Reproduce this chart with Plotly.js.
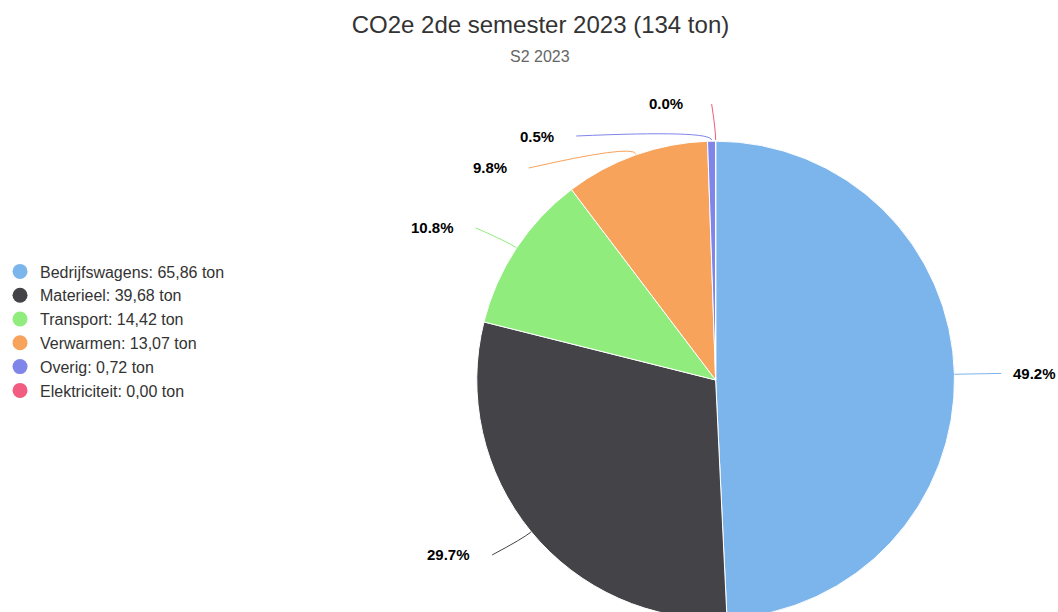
<!DOCTYPE html>
<html>
<head>
<meta charset="utf-8">
<script src="https://cdn.plot.ly/plotly-3.0.1.min.js"></script>
<style>
html,body{margin:0;padding:0;overflow:hidden;background:#fff;}
#chart{width:1058px;height:640px;}
</style>
</head>
<body>
<div id="chart"></div>
<script>
const categories = ['Bedrijfswagens', 'Materieel', 'Transport', 'Verwarmen', 'Overig', 'Elektriciteit'];
const values = [65.86, 39.68, 14.42, 13.07, 0.72, 0.00];
const colors = ['#7cb5ec', '#434348', '#90ed7d', '#f7a35c', '#8085e9', '#f15c80'];
const titleText = 'CO2e 2de semester 2023 (134 ton)';
const subtitleText = 'S2 2023';
const unit = 'ton';

const W = 1058, H = 640;
const FONT = 'Liberation Sans, Arial, Helvetica, sans-serif';
// pie geometry (pixels)
const cx = 714, cy = 380, r = 240;
const domX = [(cx - r) / W, (cx + r) / W];
const domY = [(H - (cy + r)) / H, (H - (cy - r)) / H];

const px = x => x / W;
const py = y => (H - y) / H;

const total = values.reduce((a, b) => a + b, 0);
const legendLabels = categories.map((c, i) => c + ': ' + values[i].toFixed(2).replace('.', ',') + ' ' + unit);

const traces = [{
  type: 'pie',
  labels: categories,
  values: values,
  sort: false,
  direction: 'clockwise',
  rotation: 0,
  textinfo: 'none',
  showlegend: false,
  marker: {colors: colors, line: {color: '#ffffff', width: 1}},
  domain: {x: domX, y: domY}
}];
categories.forEach((c, i) => {
  traces.push({
    type: 'scatter', mode: 'markers', x: [null], y: [null],
    name: legendLabels[i],
    marker: {color: colors[i], size: 15, symbol: 'circle'},
    hoverinfo: 'skip'
  });
});

// data labels with connectors
const R = r + 36;
const items = [];
let cum = 0;
values.forEach((v, i) => {
  const frac = (cum + v / 2) / total;
  cum += v;
  const th = frac * 2 * Math.PI;
  const s = Math.sin(th), co = Math.cos(th);
  items.push({
    i, th, s, co, left: frac > 0.5,
    ex: cx + r * s, ey: cy - r * co,
    rx: cx + (r + 10) * s, ry: cy - (r + 10) * co,
    y: cy - R * co
  });
});
['left', 'right'].forEach(side => {
  const grp = items.filter(it => (side === 'left') === it.left).sort((a, b) => a.y - b.y);
  let prev = -1e9;
  grp.forEach(it => { it.y = Math.max(it.y, prev + 32); prev = it.y; });
});
const shapes = [], annotations = [];
items.forEach(it => {
  const dx = Math.sqrt(Math.max(0, R * R - (it.y - cy) * (it.y - cy)));
  const xc = it.left ? cx - dx : cx + dx;
  const endX = it.left ? xc - Math.min(11, 4 + dx) : xc + 11;
  const textX = it.left ? xc - 31 : xc + 21;
  shapes.push({
    type: 'path', xref: 'paper', yref: 'paper',
    path: `M ${px(it.ex)} ${py(it.ey)} Q ${px(it.rx)} ${py(it.ry)} ${px(endX)} ${py(it.y)}`,
    line: {color: colors[it.i], width: 1}
  });
  annotations.push({
    xref: 'paper', yref: 'paper', x: px(textX), y: py(it.y),
    xanchor: it.left ? 'right' : 'left', yanchor: 'middle',
    text: '<b>' + (values[it.i] / total * 100).toFixed(1) + '%</b>',
    showarrow: false, font: {family: FONT, size: 15, color: '#000000'}
  });
});
annotations.push({
  xref: 'paper', yref: 'paper', x: px(538), y: py(56), xanchor: 'center', yanchor: 'middle',
  text: subtitleText, showarrow: false, font: {family: FONT, size: 16, color: '#666666'}
});

const layout = {
  width: W, height: H,
  margin: {l: 0, r: 0, t: 0, b: 0},
  paper_bgcolor: '#ffffff', plot_bgcolor: 'rgba(0,0,0,0)',
  font: {family: FONT, color: '#333333'},
  title: {text: titleText, x: px(538), xanchor: 'center', xref: 'paper', y: py(25), yanchor: 'middle', yref: 'container',
          font: {family: FONT, size: 24, color: '#333333'}},
  xaxis: {visible: false}, yaxis: {visible: false},
  showlegend: true,
  legend: {x: -5 / W, xanchor: 'left', y: py(331), yanchor: 'middle',
           font: {family: FONT, size: 16, color: '#333333'}, bgcolor: 'rgba(0,0,0,0)'},
  shapes: shapes,
  annotations: annotations
};
Plotly.newPlot('chart', traces, layout, {displayModeBar: false, staticPlot: true});
</script>
</body>
</html>
